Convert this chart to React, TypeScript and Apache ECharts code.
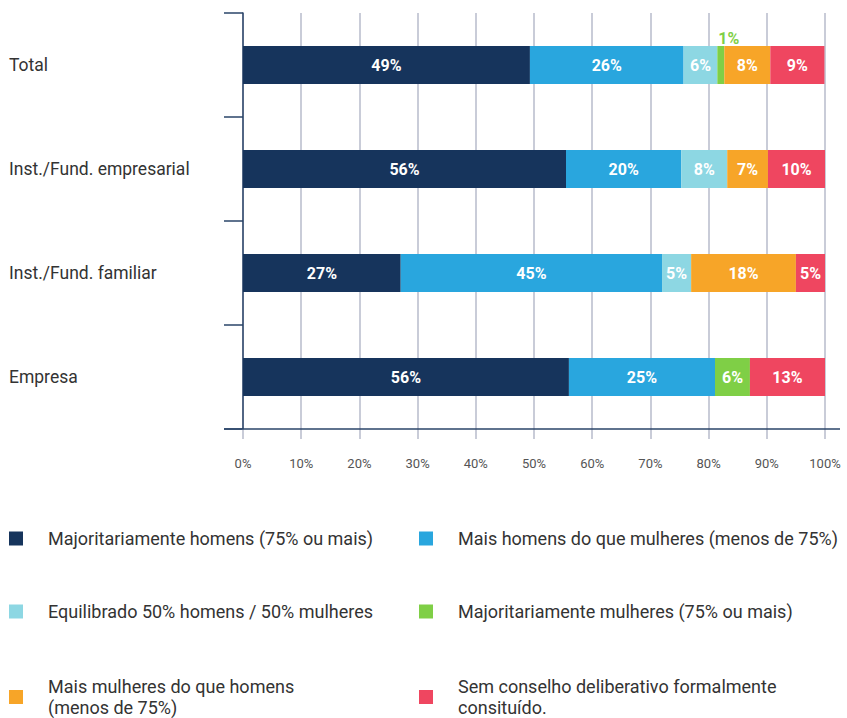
import React, { useEffect, useRef } from "react";
import * as echarts from "echarts";

const categories = ["Total", "Inst./Fund. empresarial", "Inst./Fund. familiar", "Empresa"];
const seriesNames = [
  "Majoritariamente homens (75% ou mais)",
  "Mais homens do que mulheres (menos de 75%)",
  "Equilibrado 50% homens / 50% mulheres",
  "Majoritariamente mulheres (75% ou mais)",
  "Mais mulheres do que homens (menos de 75%)",
  "Sem conselho deliberativo formalmente consituído.",
];
const legendTexts = [
  "Majoritariamente homens (75% ou mais)",
  "Mais homens do que mulheres (menos de 75%)",
  "Equilibrado 50% homens / 50% mulheres",
  "Majoritariamente mulheres (75% ou mais)",
  "Mais mulheres do que homens\n(menos de 75%)",
  "Sem conselho deliberativo formalmente\nconsituído.",
];
const majHomens = [49.3, 55.5, 27.1, 56.0];
const maisHomens = [26.4, 19.8, 44.9, 25.1];
const equilibrado = [5.8, 7.9, 5.0, 0];
const majMulheres = [1.2, 0, 0, 6.0];
const maisMulheres = [7.9, 7.0, 18.0, 0];
const semConselho = [9.3, 9.8, 5.0, 12.9];
const seriesValues = [majHomens, maisHomens, equilibrado, majMulheres, maisMulheres, semConselho];
const colors = ["#16345c", "#29a6de", "#8dd7e3", "#7fcf46", "#f7a528", "#ef4660"];

const FONT = "Roboto";

export default function App() {
  const ref = useRef<HTMLDivElement>(null);
  useEffect(() => {
    document.body.style.margin = "0";
    const chart = echarts.init(ref.current!, null, { renderer: "svg" });
    const series = seriesValues.map((vals, si) => ({
      type: "bar",
      name: seriesNames[si],
      stack: "total",
      barWidth: 38,
      itemStyle: { color: colors[si] },
      label: {
        show: true,
        position: "inside",
        color: "#ffffff",
        fontFamily: FONT,
        fontWeight: "bold",
        fontSize: 16,
        formatter: (p: any) => (p.value > 0 ? Math.round(p.value) + "%" : ""),
      },
      data: vals.map((v) =>
        v > 0 && v < 3
          ? {
              value: v,
              label: { position: "top", color: colors[si], distance: 0, offset: [8, 0] },
            }
          : v
      ),
    }));
    const legendPos = [
      { left: 9, top: 528 },
      { left: 419, top: 528 },
      { left: 9, top: 601 },
      { left: 419, top: 601 },
      { left: 9, top: 676 },
      { left: 419, top: 676 },
    ];
    const legends = seriesNames.map((n, i) => ({
      data: [n],
      left: legendPos[i].left,
      top: legendPos[i].top,
      padding: 0,
      icon: "rect",
      itemWidth: 14,
      itemHeight: 14,
      selectedMode: false,
      formatter: () => legendTexts[i],
      textStyle: {
        fontFamily: FONT,
        fontSize: 18,
        color: "#333333",
        lineHeight: 21,
        padding: [0, 0, 0, 20],
      },
    }));
    chart.setOption({
      animation: false,
      grid: { left: 243, right: 22, top: 13, bottom: 289, containLabel: false },
      legend: legends,
      xAxis: {
        type: "value",
        min: 0,
        max: 100,
        interval: 10,
        axisLine: { show: false },
        axisTick: { show: true, length: 10, lineStyle: { color: "#b7bbcb", width: 1.5 } },
        splitLine: { show: true, lineStyle: { color: "#b7bbcb", width: 1.5 } },
        axisLabel: {
          margin: 28,
          color: "#555555",
          fontFamily: FONT,
          fontSize: 13,
          formatter: "{value}%",
        },
      },
      yAxis: {
        type: "category",
        inverse: true,
        data: categories,
        axisLine: { show: true, lineStyle: { color: "#2a4468", width: 1.5 } },
        axisTick: { show: true, length: 19, lineStyle: { color: "#2a4468", width: 1.5 } },
        axisLabel: {
          align: "left",
          margin: 234,
          color: "#333333",
          fontFamily: FONT,
          fontSize: 17.5,
        },
      },
      graphic: [
        {
          type: "line",
          shape: { x1: 224, y1: 429, x2: 840, y2: 429 },
          style: { stroke: "#2a4468", lineWidth: 1.5 },
          z: 10,
        },
      ],
      series,
    });
    return () => chart.dispose();
  }, []);
  return <div ref={ref} style={{ width: 847, height: 718 }} />;
}
